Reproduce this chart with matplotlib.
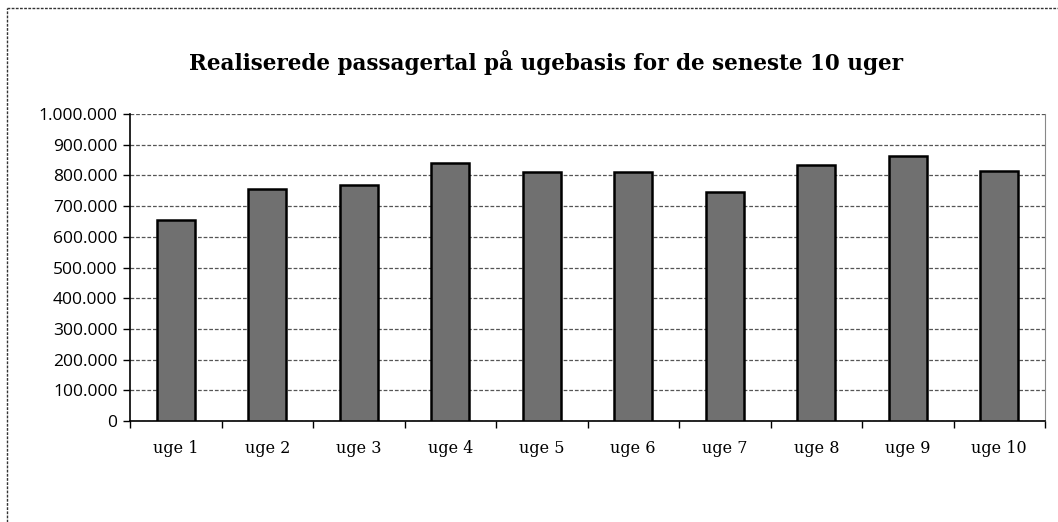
import matplotlib.pyplot as plt
from matplotlib.lines import Line2D
from matplotlib.ticker import FuncFormatter, MultipleLocator
import numpy as np

# data
weeks = ['uge 1', 'uge 2', 'uge 3', 'uge 4', 'uge 5',
         'uge 6', 'uge 7', 'uge 8', 'uge 9', 'uge 10']
passengers = [655000, 757000, 768000, 840000, 812000,
              811000, 747000, 834000, 863000, 814000]

W, H = 1058, 522
fig = plt.figure(figsize=(W / 100, H / 100), dpi=100)
ax = fig.add_axes([130 / W, 1 - 421 / H, (1045 - 130) / W, (421 - 114) / H])

x = np.arange(len(weeks))
ax.bar(x, passengers, width=0.42, color='#707070', edgecolor='black',
       linewidth=1.8, zorder=3)

ax.set_xlim(-0.5, len(weeks) - 0.5)
ax.set_ylim(0, 1000000)
ax.yaxis.set_major_locator(MultipleLocator(100000))
ax.yaxis.set_major_formatter(
    FuncFormatter(lambda v, p: f'{int(v):,}'.replace(',', '.')))
ax.grid(axis='y', color='#555555', linestyle=(0, (3, 1.5)), linewidth=0.9,
        zorder=0)

# category ticks between the bars
ax.set_xticks(x)
ax.set_xticklabels(weeks, family='DejaVu Serif', fontsize=11.5)
ax.set_xticks(np.arange(len(weeks) + 1) - 0.5, minor=True)
ax.tick_params(axis='x', which='major', length=0, pad=14)
ax.tick_params(axis='x', which='minor', length=5, direction='out', width=1)
ax.tick_params(axis='y', length=5, width=1, pad=4)
for lab in ax.get_yticklabels():
    lab.set_family('Open Sans')
    lab.set_fontsize(12.5)

ax.spines['top'].set_visible(False)
ax.spines['right'].set_color('#888888')
ax.spines['left'].set_linewidth(1.2)
ax.spines['bottom'].set_linewidth(1.2)

fig.text(546 / W, 1 - 62 / H, 'Realiserede passagertal på ugebasis for de seneste 10 uger',
         ha='center', va='center', family='DejaVu Serif', fontweight='bold',
         fontsize=15.5)

# outer chart frame (only top and left edges visible in the scan)
fig.add_artist(Line2D([7 / W, 7 / W], [0, 1 - 8 / H], color='#333333',
                      linewidth=1, linestyle=(0, (2, 1))))
fig.add_artist(Line2D([7 / W, 1], [1 - 8 / H, 1 - 8 / H], color='#333333',
                      linewidth=1, linestyle=(0, (2, 1))))

plt.savefig('out.png', dpi=100)
plt.close()
